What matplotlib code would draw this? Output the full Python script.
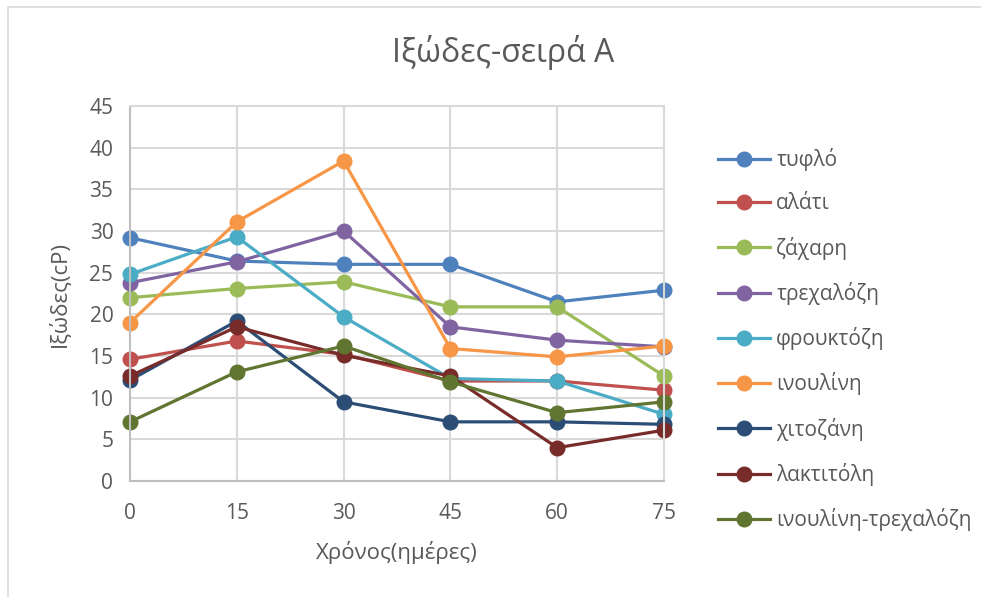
import matplotlib
matplotlib.use("Agg")
import matplotlib.pyplot as plt
from matplotlib.patches import Rectangle

plt.rcParams['font.family'] = ['Open Sans', 'DejaVu Sans']

# data
days = [0, 15, 30, 45, 60, 75]
series_names = ["τυφλό", "αλάτι", "ζάχαρη", "τρεχαλόζη", "φρουκτόζη",
                "ινουλίνη", "χιτοζάνη", "λακτιτόλη", "ινουλίνη-τρεχαλόζη"]
tyflo = [29.2, 26.4, 26.0, 26.0, 21.5, 22.9]
alati = [14.6, 16.8, 15.2, 12.0, 12.0, 10.9]
zachari = [22.0, 23.1, 23.9, 20.9, 20.9, 12.6]
trechalozi = [23.8, 26.3, 30.0, 18.5, 16.9, 16.1]
frouktozi = [24.8, 29.3, 19.7, 12.3, 12.0, 8.0]
inoulini = [19.0, 31.1, 38.4, 15.9, 14.9, 16.2]
chitozani = [12.1, 19.2, 9.5, 7.1, 7.1, 6.8]
laktitoli = [12.6, 18.5, 15.1, 12.6, 4.0, 6.1]
inoul_trech = [7.1, 13.1, 16.2, 11.9, 8.2, 9.5]
all_series = [tyflo, alati, zachari, trechalozi, frouktozi,
              inoulini, chitozani, laktitoli, inoul_trech]
colors = ["#4F81BD", "#C0504D", "#9BBB59", "#8064A2", "#4BACC6",
          "#F79646", "#2C4D75", "#772C2A", "#5F7530"]

fig = plt.figure(figsize=(9.81, 5.97), dpi=100)
ax = fig.add_axes([0.1325, 0.1943, 0.5444, 0.6281])

# chart area border
fig.patches.append(Rectangle((0.008, -0.05), 1.2, 1.038, transform=fig.transFigure,
                             fill=False, edgecolor="#D9D9D9", linewidth=1.2))

for name, vals, c in zip(series_names, all_series, colors):
    ax.plot(days, vals, "-o", color=c, linewidth=2.3, markersize=10.5,
            label=name, clip_on=False)

ax.set_xlim(0, 75)
ax.set_ylim(0, 45)
ax.set_xticks(days)
ax.set_yticks(range(0, 50, 5))
ax.grid(True, color="#D9D9D9", linewidth=1.5)
ax.set_axisbelow(True)
for s in ax.spines.values():
    s.set_color("#D9D9D9")
    s.set_linewidth(1.5)
ax.spines['left'].set_color("#BFBFBF")
ax.spines['bottom'].set_color("#BFBFBF")
ax.tick_params(length=0, labelsize=15, labelcolor="#595959")
ax.tick_params(axis="x", pad=16)
ax.tick_params(axis="y", pad=12)

fig.text(503 / 981, 1 - 52 / 597, "Ιξώδες-σειρά Α", fontsize=23,
         color="#595959", ha="center", va="center")
ax.set_xlabel("Χρόνος(ημέρες)", fontsize=16, color="#595959", labelpad=12)
ax.set_ylabel("Ιξώδες(cP)", fontsize=16, color="#595959", labelpad=13)

ax.legend(loc="upper left", bbox_to_anchor=(1.101, 0.888), frameon=False,
          fontsize=15, labelcolor="#595959", handlelength=2.5,
          labelspacing=1.07, handletextpad=0.3, borderaxespad=0,
          borderpad=0)

fig.savefig("out.png", dpi=100)
